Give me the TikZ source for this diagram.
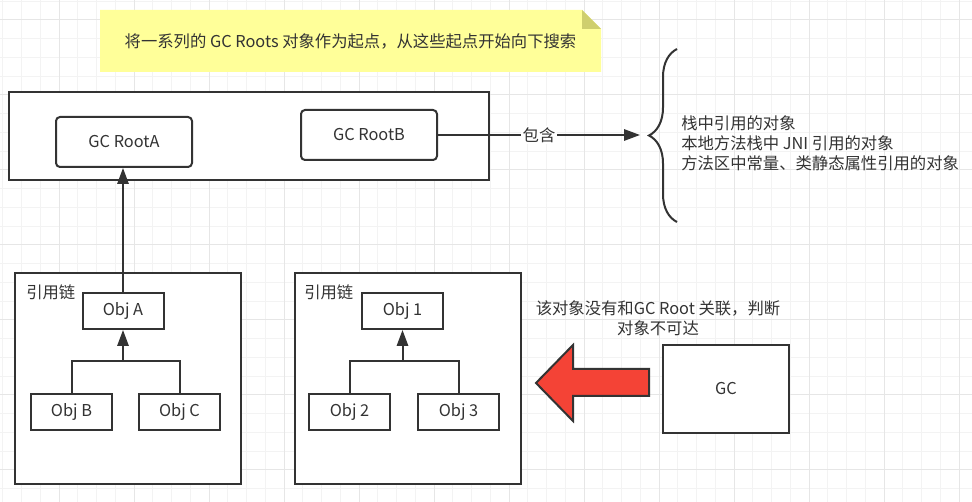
\documentclass[tikz,border=0pt]{standalone}
\usepackage{fontspec}
\setmainfont{Noto Sans CJK SC}
\usetikzlibrary{arrows.meta,decorations.pathreplacing}
\definecolor{ink}{HTML}{333333}
\definecolor{notefill}{HTML}{FFFF99}
\definecolor{notefold}{HTML}{CFCF6E}
\definecolor{alarm}{HTML}{F44336}
\definecolor{gridminor}{HTML}{F3F3F3}
\definecolor{gridmajor}{HTML}{E6E6E6}
\newcommand{\gunit}{0.75pt}
\newcommand{\lw}{1.5pt}

\begin{document}
\begin{tikzpicture}[x=\gunit,y=-\gunit,font=\fontsize{12.25pt}{15pt}\selectfont]
        \tikzset{frame/.style = {draw=ink, line width=\lw, fill=white, inner sep=0pt}}
        \tikzset{rootbox/.style = {frame, rounded corners=3pt, minimum width=102pt, minimum height=37.5pt, text=ink}}
        \tikzset{objbox/.style = {frame, minimum width=60.75pt, minimum height=27pt, text=ink}}
        \tikzset{chainbox/.style = {frame, minimum width=169.5pt, minimum height=158.25pt}}
        \tikzset{link/.style = {draw=ink, line width=\lw, -{Triangle[length=12pt,width=8.5pt]}}}
        \tikzset{plain/.style = {draw=ink, line width=\lw}}
        \tikzset{txt/.style = {text=ink, inner sep=0pt}}
        \useasboundingbox (0,0) rectangle (972,502);
        \fill[white] (0,0) rectangle (972,502);
        \foreach \i in {0,...,51}
            \draw[gridminor, line width=0.75pt] ({2.75+18.75*\i},0) -- ++(0,502);
        \foreach \i in {0,...,26}
            \draw[gridminor, line width=0.75pt] (0,{1.25+18.75*\i}) -- ++(972,0);
        \foreach \i in {0,...,12}
            \draw[gridmajor, line width=0.75pt] ({59+75*\i},0) -- ++(0,502);
        \foreach \i in {0,...,6}
            \draw[gridmajor, line width=0.75pt] (0,{20+75*\i}) -- ++(972,0);

        \fill[notefill] (100,10) -- (582,10) -- (601,29) -- (601,72) -- (100,72) -- cycle;
        \fill[notefold] (582,10) -- (582,29) -- (601,29) -- cycle;
        \node[txt] (note) at (350.5,41) {将一系列的 GC Roots 对象作为起点，从这些起点开始向下搜索};

        \node[frame, minimum width=360pt, minimum height=66pt] (roots) at (249,136) {};
        \node[rootbox] (rootA) at (124,142) {GC RootA};
        \node[rootbox] (rootB) at (369,135) {GC RootB};
        \coordinate (btip) at (640,135);
        \draw[link] (rootB) -- (btip) node[midway, fill=white, text=ink, inner sep=1pt] {包含};
        \coordinate (bbot) at (677,222);
        \coordinate (btop) at (677,49);
        \draw[plain, decorate, decoration={brace, amplitude=21pt}] (bbot) -- (btop);
        \node[txt, anchor=west, align=left] (kinds) at (681,143) {栈中引用的对象\\本地方法栈中 JNI 引用的对象\\方法区中常量、类静态属性引用的对象};

        \node[chainbox] (chainL) at (128,378.5) {};
        \node[txt, anchor=west] (chainLt) at (26,292) {引用链};
        \node[objbox] (objA) at (123,311) {Obj A};
        \node[objbox] (objB) at (71.5,412) {Obj B};
        \node[objbox] (objC) at (179.5,412) {Obj C};
        \coordinate (jA) at (123,361);
        \draw[link] (objB.north) |- (jA) -- (objA.south);
        \draw[plain] (objC.north) |- (jA);
        \draw[link] (objA.north) -- (objA.north |- rootA.south);

        \node[chainbox] (chainR) at (407.5,378.5) {};
        \node[txt, anchor=west] (chainRt) at (304,292) {引用链};
        \node[objbox] (obj1) at (402.5,311) {Obj 1};
        \node[objbox] (obj2) at (349.5,412) {Obj 2};
        \node[objbox] (obj3) at (458.5,412) {Obj 3};
        \coordinate (j1) at (402.5,361);
        \draw[link] (obj2.north) |- (j1) -- (obj1.south);
        \draw[plain] (obj3.north) |- (j1);

        \draw[plain, fill=alarm, line join=miter] (536,383) -- (573,345) -- (573,369) -- (649,369) -- (649,396) -- (573,396) -- (573,421) -- cycle;
        \node[frame, minimum width=94.5pt, minimum height=66pt, text=ink] (gc) at (726,389) {GC};
        \node[txt, align=center] (unreach) at (658,318) {该对象没有和GC Root 关联，判断\\对象不可达};
    \end{tikzpicture}
\end{document}
